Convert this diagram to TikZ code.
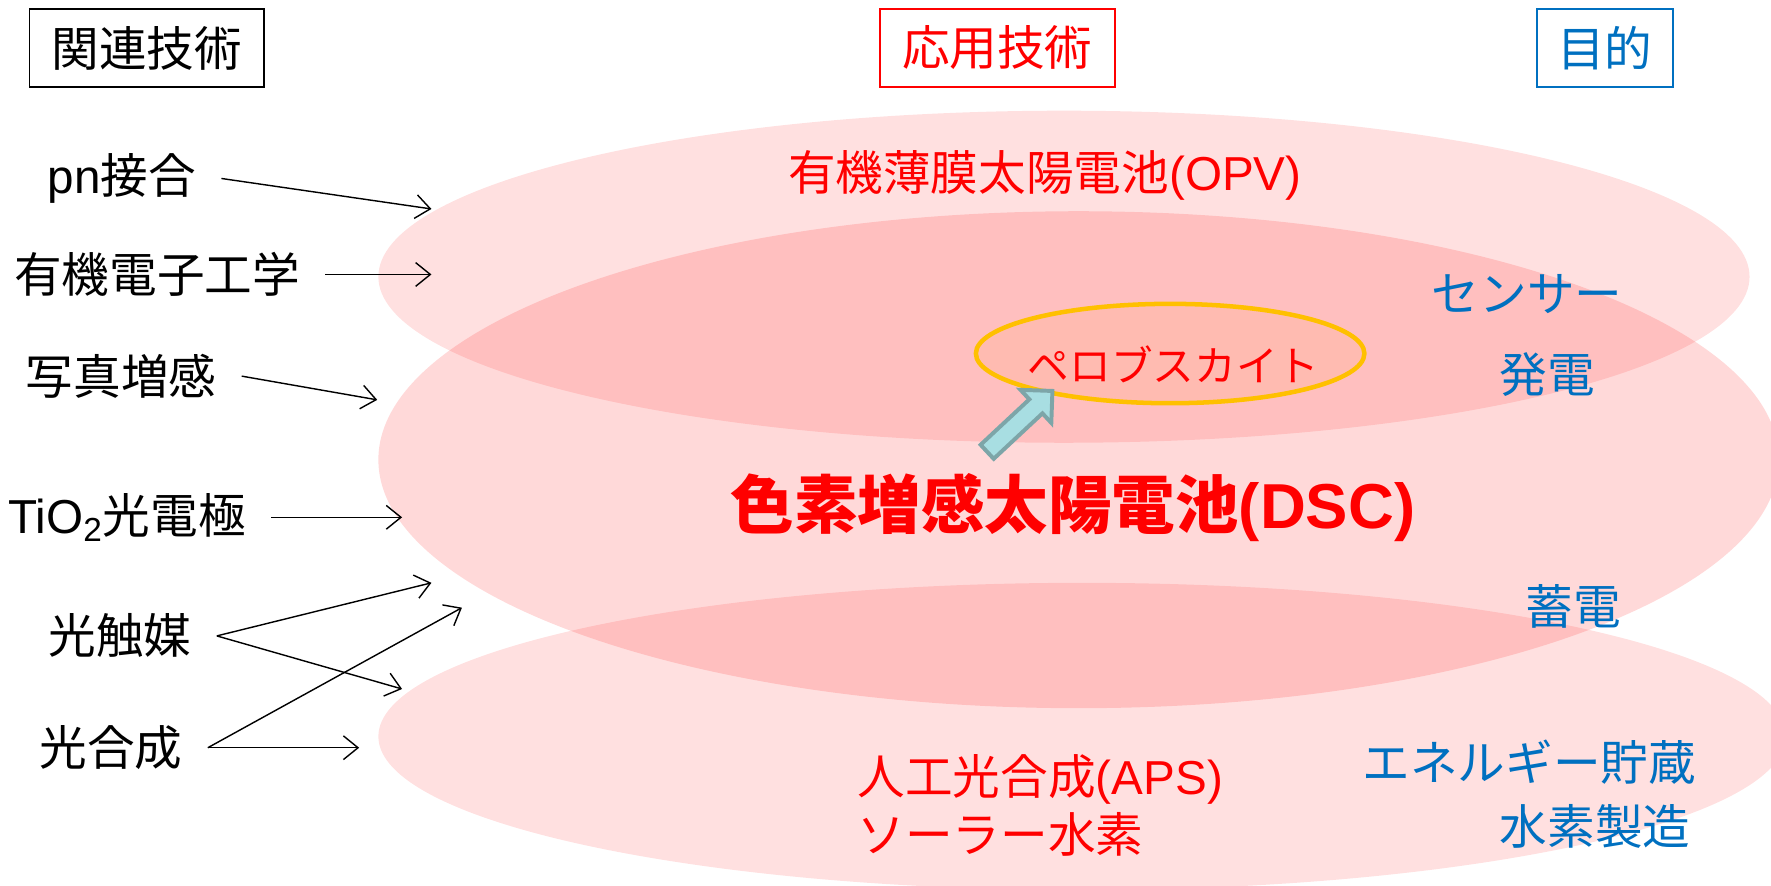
\documentclass[tikz,border=0pt]{standalone}
\usepackage{fontspec}
\setmainfont{Noto Sans CJK JP}
\newfontfamily\lat{Liberation Sans}
\usetikzlibrary{arrows.meta}
\definecolor{goalblue}{HTML}{0070C0}
\definecolor{pvkline}{HTML}{FFC000}
\definecolor{pvkfill}{RGB}{255,187,177}
\definecolor{arrfill}{RGB}{168,222,226}
\definecolor{arrline}{RGB}{125,165,168}

\begin{document}
\begin{tikzpicture}
  [x=0.2mm,y=-0.2mm,
  lbl/.style={font=\fontsize{24}{28}\selectfont,inner sep=0pt},
  hdr/.style={lbl,draw,line width=0.3mm,minimum height=13.8mm},
  tech/.style={lbl,anchor=east,inner xsep=4.4mm},
  app/.style={lbl,text=red},
  goal/.style={lbl,text=goalblue},
  feed/.style={-{Straight Barb[length=2.6mm,width=4.2mm]},line width=0.25mm},
  zone/.style={fill=red,fill opacity=#1}]
  \useasboundingbox (0,0) rectangle (1568,784);
  \fill[zone=0.12] (942,245) ellipse [x radius=607,y radius=147];
  \fill[zone=0.15] (955,407) ellipse [x radius=620,y radius=220];
  \fill[zone=0.12] (958,652) ellipse [x radius=623,y radius=136];
  \draw[pvkline,fill=pvkfill,line width=0.8mm] (1036,313) ellipse [x radius=172,y radius=44];
  \begin{scope}[shift={(874,400)},rotate=43]
    \draw[arrline,fill=arrfill,line width=0.7mm,line join=miter]
      (0,8.5) -- (59,8.5) -- (59,20) -- (79,0) -- (59,-20) -- (59,-8.5) -- (0,-8.5) -- cycle;
  \end{scope}
  \node[hdr,minimum width=41.5mm] (rel) at (130,42.5) {関連技術};
  \node[hdr,app,draw=red,minimum width=41.6mm] (use) at (883,42.5) {応用技術};
  \node[hdr,goal,draw=goalblue,minimum width=24mm] (aim) at (1421,42.5) {目的};
  \node[tech] (pn) at (196,158) {{\lat pn}接合};
  \node[tech] (orgel) at (288,243) {有機電子工学};
  \node[tech] (photo) at (214,333) {写真増感};
  \node[tech] (tio) at (240,458) {{\lat TiO\textsubscript{2}}光電極};
  \node[tech] (cat) at (192,563) {光触媒};
  \node[tech] (syn) at (184,662) {光合成};
  \coordinate (t1) at (382,185);
  \coordinate (t2) at (382,243);
  \coordinate (t3) at (334,354);
  \coordinate (t4) at (356,458);
  \coordinate (t5) at (382,516);
  \coordinate (t6) at (356,610);
  \coordinate (t7) at (409,538);
  \coordinate (t8) at (318,662);
  \foreach \a/\b in {pn/t1,orgel/t2,photo/t3,tio/t4,cat/t5,cat/t6,syn/t7,syn/t8}
    \draw[feed] (\a.east) -- (\b);
  \node[app] (opv) at (925,155) {有機薄膜太陽電池{\lat (OPV)}};
  \node[app,font=\fontsize{21}{25}\selectfont] (pvk) at (1039,323) {ペロブスカイト};
  \node[app,font=\fontsize{32}{36}\selectfont\bfseries] (dsc) at (950,449) {色素増感太陽電池{\lat (DSC)}};
  \node[app,anchor=west] (aps) at (759,690) {人工光合成{\lat (APS)}};
  \node[app,anchor=west] (solar) at (759,739) {ソーラー水素};
  \node[goal] (sens) at (1352,260) {センサー};
  \node[goal] (gen) at (1370,332) {発電};
  \node[goal] (stor) at (1393,537) {蓄電};
  \node[goal,anchor=east] (estor) at (1502,675) {エネルギー貯蔵};
  \node[goal,anchor=east] (hyd) at (1497,732) {水素製造};
\end{tikzpicture}
\end{document}
